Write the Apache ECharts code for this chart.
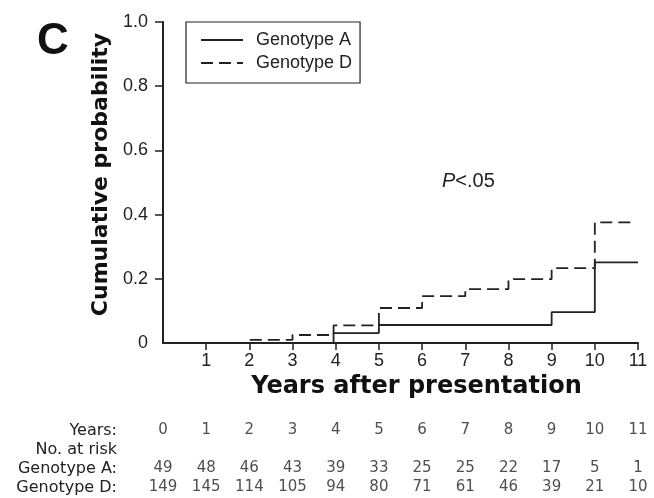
<!DOCTYPE html>
<html>
<head>
<meta charset="utf-8">
<script src="https://cdn.jsdelivr.net/npm/echarts@6/dist/echarts.min.js"></script>
<style>
html,body{margin:0;padding:0;background:#fff;}
#main{width:654px;height:498px;}
</style>
</head>
<body>
<div id="main"></div>
<script>
// Data
const yearsTicks = [0,1,2,3,4,5,6,7,8,9,10,11];
const xTickMarks = [1,2,3,4,5,6,7,8,9,10,11];
const yTickMarks = [0.2,0.4,0.6,0.8,1.0];
const genoA_times = [0, 3.95, 5, 9, 10, 11];
const genoA_values = [0, 0.031, 0.056, 0.096, 0.251, 0.251];
const genoD_times = [0, 2, 3, 3.95, 5, 6, 7, 8, 9, 10, 10.9];
const genoD_values = [0, 0.01, 0.025, 0.055, 0.109, 0.146, 0.168, 0.199, 0.233, 0.376, 0.376];
const riskRows = ['Years:', 'No. at risk', 'Genotype A:', 'Genotype D:'];
const riskA = [49,48,46,43,39,33,25,25,22,17,5,1];
const riskD = [149,145,114,105,94,80,71,61,46,39,21,10];

const FONT = 'Liberation Sans, Arial, Helvetica, sans-serif';
const WIDE = 'DejaVu Sans, Verdana, sans-serif';
const INK = '#222';

const chart = echarts.init(document.getElementById('main'), null, {renderer:'canvas'});

const pairs = (xs, ys) => xs.map((x,i)=>[x, ys[i]]);

const option = {
  backgroundColor: '#fff',
  animation: false,
  textStyle: {fontFamily: FONT, color: INK},
  grid: [
    {left:163, right:16, top:22, bottom:155, containLabel:false},
    {left:163, right:16, top:421, height:76, containLabel:false}
  ],
  xAxis: [
    {
      type:'value', gridIndex:0, min:0, max:11, interval:1,
      name:'Years after presentation', nameLocation:'middle', nameGap:29,
      nameTextStyle:{fontFamily:WIDE, fontSize:24, fontWeight:'bold', color:'#111', padding:[0,0,0,32]},
      axisLine:{show:true, onZero:false, lineStyle:{color:INK, width:2}},
      axisTick:{show:true, length:7, customValues:xTickMarks, lineStyle:{color:INK, width:1.5}},
      axisLabel:{fontFamily:FONT, fontSize:18, color:INK, margin:9,
        formatter:(v)=> v===0 ? '' : String(v)},
      splitLine:{show:false}
    },
    {
      type:'value', gridIndex:1, min:0, max:11, interval:1, show:false
    }
  ],
  yAxis: [
    {
      type:'value', gridIndex:0, min:0, max:1, interval:0.2,
      name:'Cumulative probability', nameLocation:'middle', nameGap:50,
      nameTextStyle:{fontFamily:WIDE, fontSize:22, fontWeight:'bold', color:'#111', padding:[0,0,0,16]},
      axisLine:{show:true, lineStyle:{color:INK, width:2}},
      axisTick:{show:true, length:8, customValues:yTickMarks, lineStyle:{color:INK, width:1.5}},
      axisLabel:{fontFamily:FONT, fontSize:18, color:INK, margin:15,
        formatter:(v)=> v===0 ? '0' : v.toFixed(1)},
      splitLine:{show:false}
    },
    {
      type:'category', gridIndex:1, data:riskRows, inverse:true,
      axisLine:{show:false}, axisTick:{show:false},
      axisLabel:{fontFamily:WIDE, fontSize:16, color:INK, margin:46, align:'right', interval:0, hideOverlap:false}
    }
  ],
  legend: {
    orient:'vertical', left:186, top:22,
    padding:[9,8,11,14], itemGap:5,
    itemWidth:42, itemHeight:16,
    borderColor:INK, borderWidth:1.2, borderRadius:0,
    itemStyle:{opacity:0},
    textStyle:{fontFamily:FONT, fontSize:18, color:INK, padding:[0,0,0,8]},
    data:['Genotype A','Genotype D']
  },
  series: [
    {
      name:'Genotype A', type:'line', xAxisIndex:0, yAxisIndex:0,
      step:'end', symbol:'none', data:pairs(genoA_times, genoA_values),
      lineStyle:{color:INK, width:1.8, type:'solid'}, itemStyle:{color:INK}, z:3
    },
    {
      name:'Genotype D', type:'line', xAxisIndex:0, yAxisIndex:0,
      step:'end', symbol:'none', data:pairs(genoD_times, genoD_values),
      lineStyle:{color:INK, width:1.8, type:[12,6]}, itemStyle:{color:INK}, z:3
    },
    {
      name:'yearsRow', type:'scatter', xAxisIndex:1, yAxisIndex:1, symbolSize:0,
      data: yearsTicks.map(y=>[y, riskRows[0]]),
      label:{show:true, position:'inside', fontFamily:WIDE, fontSize:15, color:INK,
        formatter:(p)=>String(p.value[0])}
    },
    {
      name:'riskA', type:'scatter', xAxisIndex:1, yAxisIndex:1, symbolSize:0,
      data: yearsTicks.map((y,i)=>[y, riskRows[2], riskA[i]]),
      label:{show:true, position:'inside', fontFamily:WIDE, fontSize:15, color:INK,
        formatter:(p)=>String(p.value[2])}
    },
    {
      name:'riskD', type:'scatter', xAxisIndex:1, yAxisIndex:1, symbolSize:0,
      data: yearsTicks.map((y,i)=>[y, riskRows[3], riskD[i]]),
      label:{show:true, position:'inside', fontFamily:WIDE, fontSize:15, color:INK,
        formatter:(p)=>String(p.value[2])}
    }
  ],
  graphic: [
    {type:'text', left:37, top:20, style:{text:'C', fontFamily:FONT, fontSize:44, fontWeight:'bold', fill:'#111'}},
    {type:'text', left:442, top:171, style:{
      text:'{i|P}<.05', fontFamily:FONT, fontSize:20, fill:INK,
      rich:{i:{fontStyle:'italic', fontFamily:FONT, fontSize:20, fill:INK}}
    }}
  ]
};
chart.setOption(option);
</script>
</body>
</html>
